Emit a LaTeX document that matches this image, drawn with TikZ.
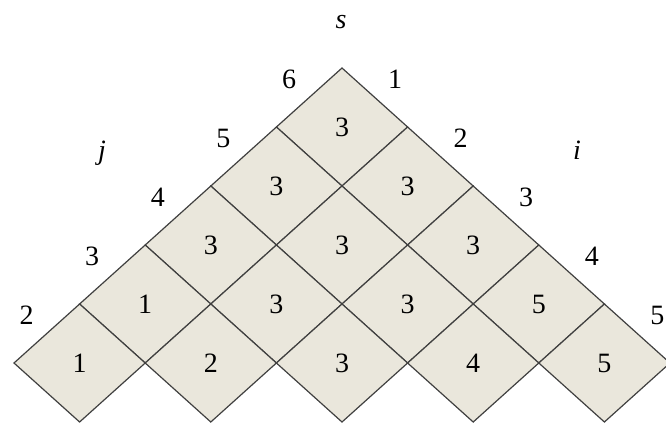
\documentclass[tikz,border=0pt]{standalone}
\usepackage{fontspec}
\setmainfont{Liberation Serif}
\definecolor{cellfill}{RGB}{234,231,220}
\definecolor{cellline}{RGB}{64,64,64}
\begin{document}
\begin{tikzpicture}[x=1pt,y=-1pt,
  cell/.style={fill=cellfill,draw=cellline,line width=1.2pt,line join=miter},
  val/.style={font=\fontsize{28}{32}\selectfont,inner sep=0pt},
  idx/.style={font=\fontsize{28}{32}\selectfont,inner sep=0pt},
  var/.style={font=\fontsize{28}{32}\selectfont\itshape,inner sep=0pt}]
\useasboundingbox (0,0) rectangle (666,423);
\clip (0,0) rectangle (666,423);
\def\hw{65.6}\def\hh{59}\def\ax{342}\def\ay{68}
\foreach \r/\vals in {0/{3},1/{3,3},2/{3,3,3},3/{1,3,3,5},4/{1,2,3,4,5}} {
  \foreach \v [count=\c from 0] in \vals {
    \pgfmathsetmacro\cx{\ax+(2*\c-\r)*\hw}
    \pgfmathsetmacro\cy{\ay+(\r+1)*\hh}
    \draw[cell] (\cx,\cy-\hh) -- (\cx+\hw,\cy) -- (\cx,\cy+\hh) -- (\cx-\hw,\cy) -- cycle;
    \node[val] (v\r\c) at (\cx,\cy) {\v};
  }
}
\foreach \k/\lj/\ri in {0/6/1,1/5/2,2/4/3,3/3/4,4/2/5} {
  \pgfmathsetmacro\lx{\ax-\k*\hw-53}
  \pgfmathsetmacro\rx{\ax+\k*\hw+53}
  \pgfmathsetmacro\ly{\ay+\k*\hh+11}
  \node[idx] (jl\k) at (\lx,\ly) {\lj};
  \node[idx] (ir\k) at (\rx,\ly) {\ri};
}
\node[var] (s) at (341,22) {s};
\node[var] (j) at (102,153) {j};
\node[var] (i) at (577,150) {i};
\end{tikzpicture}
\end{document}
